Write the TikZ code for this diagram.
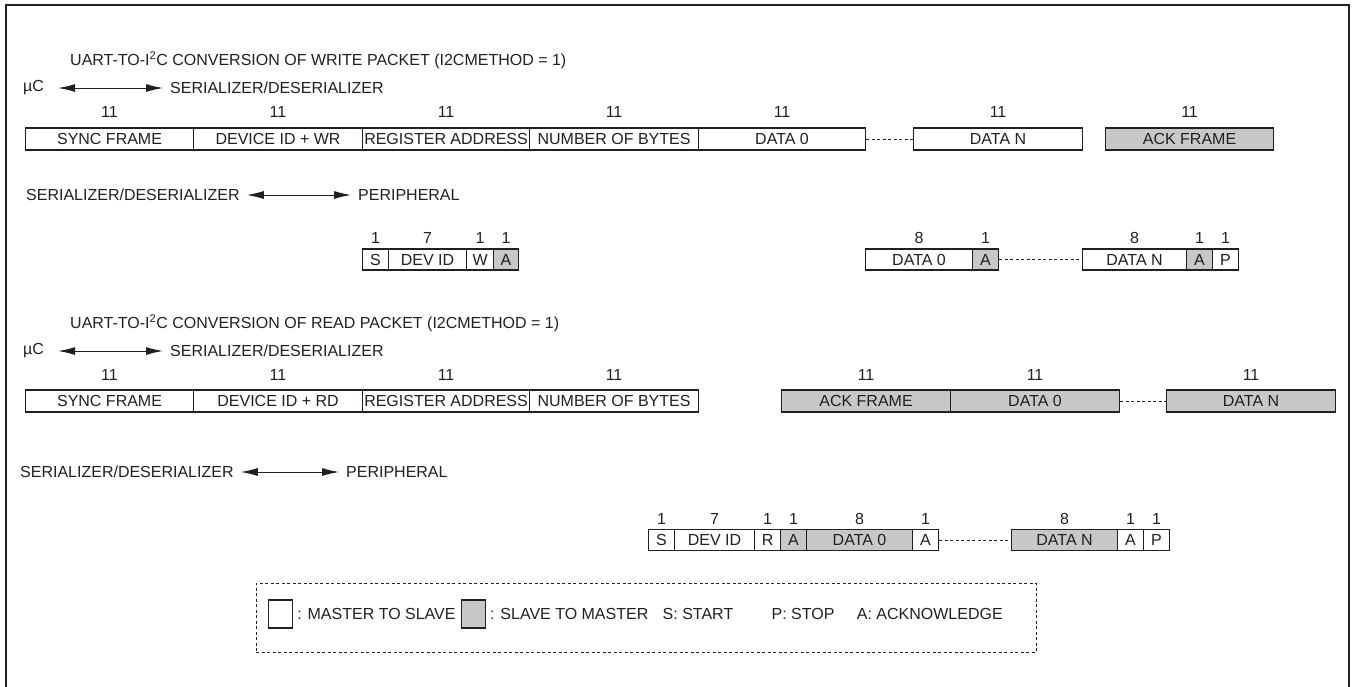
\documentclass[tikz,border=0pt]{standalone}
\usepackage{fontspec}
\setmainfont{Liberation Sans}
\usetikzlibrary{arrows.meta}
\definecolor{ink}{RGB}{35,31,32}
\definecolor{ackgray}{RGB}{200,200,200}
\tikzset{
  frm/.style={draw=ink, line width=1.1pt, minimum height=22pt, inner sep=0pt, anchor=west},
  wbox/.style={frm, fill=white},
  gbox/.style={frm, fill=ackgray},
  sfrm/.style={draw=ink, line width=1.1pt, minimum height=21pt, inner sep=0pt, anchor=west},
  swbox/.style={sfrm, fill=white},
  sgbox/.style={sfrm, fill=ackgray},
  num/.style={inner sep=0pt},
  lbl/.style={inner sep=0pt, anchor=west},
  dots/.style={draw=ink, line width=0.8pt, dash pattern=on 3pt off 2.5pt},
  biarrow/.style={draw=ink, line width=1pt, {Latex[length=17pt,width=8pt]}-{Latex[length=17pt,width=8pt]}}
}
\begin{document}
\begin{tikzpicture}[x=1pt,y=-1pt, font=\fontsize{16}{19}\selectfont, text=ink]
\useasboundingbox (0,0) rectangle (1352,686);
% outer frame
\draw[ink, line width=2pt] (6,700) -- (6,5) -- (1349,5) -- (1349,700);

% ================= WRITE PACKET =================
\node[lbl] (t1) at (70,60) {UART-TO-I\textsuperscript{2}C CONVERSION OF WRITE PACKET (I2CMETHOD = 1)};
\node[lbl] (uc1) at (23,88) {µC};
\node[lbl] (sd1) at (170,88) {SERIALIZER/DESERIALIZER};
\draw[biarrow] ([xshift=14pt]uc1.east) -- ([xshift=-7pt]sd1.west);

\node[wbox, minimum width=168pt] (w1) at (25,139) {SYNC FRAME};
\node[wbox, minimum width=169pt] (w2) at (193,139) {DEVICE ID + WR};
\node[wbox, minimum width=167pt] (w3) at (362,139) {REGISTER ADDRESS};
\node[wbox, minimum width=169pt] (w4) at (529,139) {NUMBER OF BYTES};
\node[wbox, minimum width=167pt] (w5) at (698,139) {DATA 0};
\node[wbox, minimum width=169pt] (w6) at (913,139) {DATA N};
\node[gbox, minimum width=168pt] (w7) at (1105,139) {ACK FRAME};
\draw[dots] (w5.east) -- (w6.west);
\foreach \b in {w1,w2,w3,w4,w5,w6,w7}
  \node[num] (n\b) at ([yshift=27pt]\b.center) {11};

\node[lbl] (sd2) at (26,195) {SERIALIZER/DESERIALIZER};
\node[lbl] (pe2) at (358,195) {PERIPHERAL};
\draw[biarrow] ([xshift=7pt]sd2.east) -- ([xshift=-7pt]pe2.west);

\node[swbox, minimum width=26pt] (a1) at (362,259.5) {S};
\node[swbox, minimum width=78pt] (a2) at (388,259.5) {DEV ID};
\node[swbox, minimum width=27pt] (a3) at (466,259.5) {W};
\node[sgbox, minimum width=25pt] (a4) at (493,259.5) {A};
\node[swbox, minimum width=107pt] (a5) at (865,259.5) {DATA 0};
\node[sgbox, minimum width=26pt] (a6) at (972,259.5) {A};
\node[swbox, minimum width=104pt] (a7) at (1082,259.5) {DATA N};
\node[sgbox, minimum width=26pt] (a8) at (1186,259.5) {A};
\node[swbox, minimum width=26pt] (a9) at (1212,259.5) {P};
\draw[dots] (a6.east) -- (a7.west);
\foreach \b/\v in {a1/1,a2/7,a3/1,a4/1,a5/8,a6/1,a7/8,a8/1,a9/1}
  \node[num] (n\b) at ([yshift=22pt]\b.center) {\v};

% ================= READ PACKET =================
\node[lbl] (t2) at (70,323) {UART-TO-I\textsuperscript{2}C CONVERSION OF READ PACKET (I2CMETHOD = 1)};
\node[lbl] (uc3) at (23,351) {µC};
\node[lbl] (sd3) at (170,351) {SERIALIZER/DESERIALIZER};
\draw[biarrow] ([xshift=14pt]uc3.east) -- ([xshift=-7pt]sd3.west);

\node[wbox, minimum width=168pt] (r1) at (25,401) {SYNC FRAME};
\node[wbox, minimum width=169pt] (r2) at (193,401) {DEVICE ID + RD};
\node[wbox, minimum width=167pt] (r3) at (362,401) {REGISTER ADDRESS};
\node[wbox, minimum width=169pt] (r4) at (529,401) {NUMBER OF BYTES};
\node[gbox, minimum width=169pt] (r5) at (781,401) {ACK FRAME};
\node[gbox, minimum width=169pt] (r6) at (950,401) {DATA 0};
\node[gbox, minimum width=169pt] (r7) at (1166,401) {DATA N};
\draw[dots] (r6.east) -- (r7.west);
\foreach \b in {r1,r2,r3,r4,r5,r6,r7}
  \node[num] (n\b) at ([yshift=26pt]\b.center) {11};

\node[lbl] (sd4) at (20,472) {SERIALIZER/DESERIALIZER};
\node[lbl] (pe4) at (346,472) {PERIPHERAL};
\draw[biarrow] ([xshift=7pt]sd4.east) -- ([xshift=-7pt]pe4.west);

\node[swbox, minimum width=26pt] (b1) at (648,540) {S};
\node[swbox, minimum width=80pt] (b2) at (674,540) {DEV ID};
\node[swbox, minimum width=26pt] (b3) at (754,540) {R};
\node[sgbox, minimum width=26pt] (b4) at (780,540) {A};
\node[sgbox, minimum width=106pt] (b5) at (806,540) {DATA 0};
\node[swbox, minimum width=26pt] (b6) at (912,540) {A};
\node[sgbox, minimum width=106pt] (b7) at (1011,540) {DATA N};
\node[swbox, minimum width=26pt] (b8) at (1117,540) {A};
\node[swbox, minimum width=26pt] (b9) at (1143,540) {P};
\draw[dots] (b6.east) -- (b7.west);
\foreach \b/\v in {b1/1,b2/7,b3/1,b4/1,b5/8,b6/1,b7/8,b8/1,b9/1}
  \node[num] (n\b) at ([yshift=21pt]\b.center) {\v};

% ================= LEGEND =================
\node[draw=ink, line width=0.8pt, dash pattern=on 3pt off 2.5pt, minimum width=780pt, minimum height=69pt, inner sep=0pt, anchor=north west] (leg) at (256,583) {};
\node[draw=ink, line width=1.1pt, fill=white, minimum width=24pt, minimum height=28pt, inner sep=0pt, anchor=west] (lw) at (268,614) {};
\node[lbl] (lwt) at ([xshift=4pt]lw.east) {: MASTER TO SLAVE};
\node[draw=ink, line width=1.1pt, fill=ackgray, minimum width=24pt, minimum height=28pt, inner sep=0pt, anchor=west] (lg) at ([xshift=5pt]lwt.east) {};
\node[lbl] (lgt) at ([xshift=4pt]lg.east) {: SLAVE TO MASTER};
\node[lbl] (ls) at ([xshift=14pt]lgt.east) {S: START};
\node[lbl] (lp) at ([xshift=38pt]ls.east) {P: STOP};
\node[lbl] (la) at ([xshift=22pt]lp.east) {A: ACKNOWLEDGE};
\end{tikzpicture}
\end{document}
